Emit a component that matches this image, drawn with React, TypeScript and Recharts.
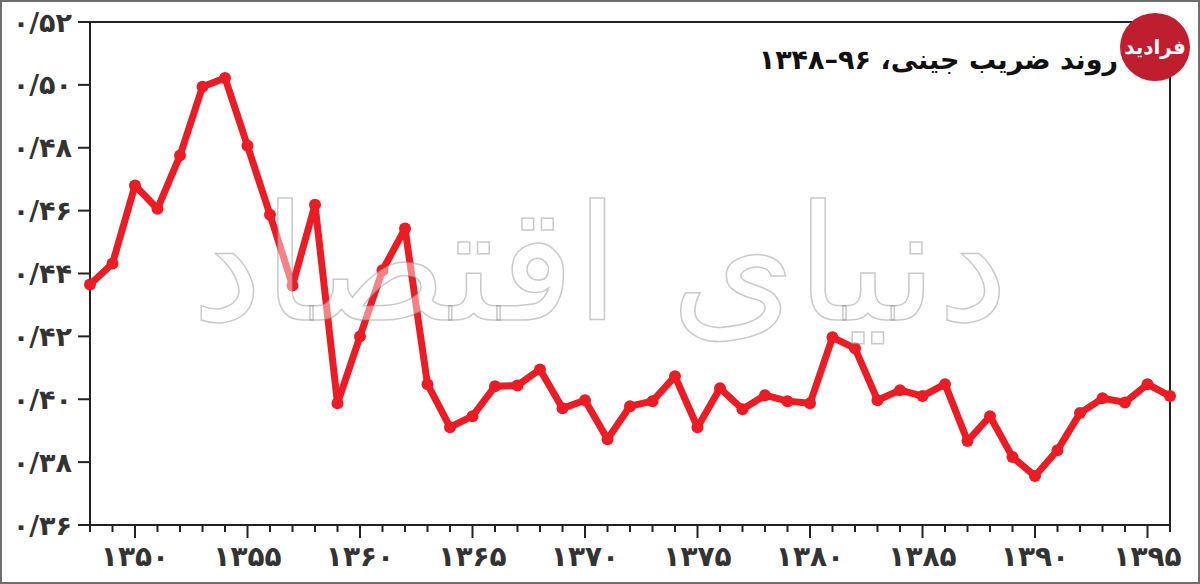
import React from "react";
import { LineChart, Line, XAxis, YAxis, ReferenceArea } from "recharts";

const years = [
  1348, 1349, 1350, 1351, 1352, 1353, 1354, 1355, 1356, 1357,
  1358, 1359, 1360, 1361, 1362, 1363, 1364, 1365, 1366, 1367,
  1368, 1369, 1370, 1371, 1372, 1373, 1374, 1375, 1376, 1377,
  1378, 1379, 1380, 1381, 1382, 1383, 1384, 1385, 1386, 1387,
  1388, 1389, 1390, 1391, 1392, 1393, 1394, 1395, 1396,
];

const gini = [
  0.4365, 0.4432, 0.468, 0.4606, 0.4775, 0.4994, 0.5022, 0.4806, 0.4587, 0.4362,
  0.4619, 0.3987, 0.42, 0.441, 0.4543, 0.4048, 0.3911, 0.3946, 0.4041, 0.4044,
  0.4095, 0.3971, 0.3997, 0.3873, 0.3978, 0.3994, 0.4073, 0.3911, 0.4035, 0.3968,
  0.4013, 0.3994, 0.3987, 0.4197, 0.4162, 0.3997, 0.4029, 0.401, 0.4048, 0.3867,
  0.3946, 0.3816, 0.3756, 0.3838, 0.3956, 0.4003, 0.399, 0.4048, 0.401,
];

const yTicks = [0.36, 0.38, 0.4, 0.42, 0.44, 0.46, 0.48, 0.5, 0.52];

const title = "روند ضریب جینی، ۹۶–۱۳۴۸";
const watermark = "دنیای اقتصاد";
const logoText = "فرادید";

const data = years.map((year, i) => ({ year, gini: gini[i] }));

const RED = "#ec1c24";
const INK = "#222";
const FONT = "'DejaVu Sans', sans-serif";

const toFa = (s: string) => s.replace(/\d/g, (d) => "۰۱۲۳۴۵۶۷۸۹"[Number(d)]);

function YearTick({ x, y, payload }: any) {
  const major = payload.value % 5 === 0;
  return (
    <g>
      <line x1={x} x2={x} y1={y} y2={y + (major ? 13 : 7)} stroke={INK} strokeWidth={2} />
      {major && (
        <text
          x={x}
          y={y + 41}
          textAnchor="middle"
          fill="#333"
          fontSize={28}
          fontWeight="bold"
          fontFamily={FONT}
        >
          {toFa(String(payload.value))}
        </text>
      )}
    </g>
  );
}

export default function App() {
  return (
    <div
      style={{
        position: "absolute",
        left: 0,
        top: 0,
        width: 1200,
        height: 584,
        background: "#fff",
        overflow: "hidden",
      }}
    >
      <LineChart width={1200} height={584} data={data} margin={{ top: 22, right: 30, bottom: 0, left: 0 }}>
        <XAxis
          dataKey="year"
          type="number"
          domain={[1348, 1396]}
          ticks={years}
          interval={0}
          height={59}
          tickSize={0}
          tickMargin={0}
          tickLine={false}
          axisLine={{ stroke: INK, strokeWidth: 2 }}
          tick={<YearTick />}
        />
        <YAxis
          type="number"
          domain={[0.36, 0.52]}
          ticks={yTicks}
          interval={0}
          width={90}
          tickSize={12}
          tickMargin={6}
          tickLine={{ stroke: INK, strokeWidth: 2 }}
          axisLine={{ stroke: INK, strokeWidth: 2 }}
          tick={{ fill: "#333", fontSize: 27, fontWeight: "bold", fontFamily: FONT }}
          tickFormatter={(v: number) => toFa(v.toFixed(2).replace(".", "/"))}
        />
        <ReferenceArea
          x1={1348}
          x2={1396}
          y1={0.36}
          y2={0.52}
          fill="none"
          stroke={INK}
          strokeWidth={2}
          ifOverflow="visible"
        />
        <Line
          dataKey="gini"
          type="linear"
          stroke={RED}
          strokeWidth={7}
          strokeLinejoin="round"
          dot={{ r: 6, fill: RED, stroke: RED, strokeWidth: 0 }}
          isAnimationActive={false}
        />
      </LineChart>

      <div
        style={{
          position: "absolute",
          left: 190,
          top: 165,
          width: 820,
          textAlign: "center",
          direction: "rtl",
          fontFamily: FONT,
          fontSize: 160,
          lineHeight: "200px",
          color: "rgba(255,255,255,0.45)",
          WebkitTextStroke: "1.5px rgba(120,120,120,0.4)",
          whiteSpace: "nowrap",
          pointerEvents: "none",
        }}
      >
        {watermark}
      </div>

      <div
        style={{
          position: "absolute",
          right: 82,
          top: 44,
          direction: "rtl",
          fontFamily: FONT,
          fontSize: 27,
          fontWeight: "bold",
          color: "#111",
          whiteSpace: "nowrap",
        }}
      >
        {title}
      </div>

      <div
        style={{
          position: "absolute",
          left: 1120,
          top: 13,
          width: 70,
          height: 68,
          borderRadius: "50%",
          background: "#be1e2d",
          color: "#fff",
          display: "flex",
          alignItems: "center",
          justifyContent: "center",
          fontFamily: FONT,
          fontWeight: "bold",
          fontSize: 20,
          direction: "rtl",
        }}
      >
        {logoText}
      </div>

      <div
        style={{
          position: "absolute",
          inset: 0,
          border: "2px solid #6e6e6e",
          pointerEvents: "none",
        }}
      />
    </div>
  );
}
